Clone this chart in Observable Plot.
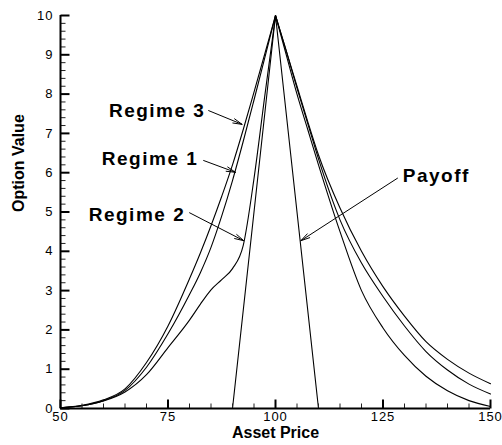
<!DOCTYPE html>
<html>
<head>
<meta charset="utf-8">
<script src="https://cdn.jsdelivr.net/npm/d3@7"></script>
<script src="https://cdn.jsdelivr.net/npm/@observablehq/plot@0.6"></script>
<style>
  html, body { margin: 0; padding: 0; background: white; }
</style>
</head>
<body>
<div id="chart"></div>
<script>
// ---- data ----
const assetPrice = [50, 55, 60, 65, 70, 75, 80, 82.5, 85, 87.5, 90, 92.5, 95, 97.5, 100, 102.5, 105, 107.5, 110, 115, 120, 125, 130, 135, 140, 145, 150];
const regime3 = [0.02, 0.08, 0.22, 0.50, 1.17, 2.10, 3.30, 3.95, 4.65, 5.40, 6.20, 7.10, 8.05, 9.02, 10, 9.10, 8.20, 7.30, 6.45, 5.10, 4.00, 3.10, 2.35, 1.70, 1.25, 0.90, 0.63];
const regime1 = [0.02, 0.07, 0.20, 0.46, 1.05, 1.90, 2.90, 3.45, 4.10, 4.90, 5.80, 6.80, 7.85, 8.92, 10, 9.10, 8.15, 7.25, 6.35, 4.80, 3.70, 2.85, 2.10, 1.45, 0.98, 0.62, 0.37];
const regime2 = [0.02, 0.07, 0.19, 0.42, 0.86, 1.55, 2.25, 2.65, 3.02, 3.28, 3.56, 4.15, 5.85, 7.95, 10, 9.00, 8.00, 7.10, 6.20, 4.50, 3.00, 2.05, 1.35, 0.82, 0.45, 0.20, 0.05];
const payoffX = [90, 100, 110];
const payoffY = [0, 10, 0];
const strike = 100;

const xDomain = [50, 150];
const yDomain = [0, 10];
const xMajor = [50, 75, 100, 125, 150];
const xMinor = [55, 60, 65, 70, 80, 85, 90, 95, 105, 110, 115, 120, 130, 135, 140, 145];
const yMajor = [0, 1, 2, 3, 4, 5, 6, 7, 8, 9, 10];
const yMinor = [0.2, 0.4, 0.6, 0.8, 1.2, 1.4, 1.6, 1.8, 2.2, 2.4, 2.6, 2.8, 3.2, 3.4, 3.6, 3.8, 4.2, 4.4, 4.6, 4.8, 5.2, 5.4, 5.6, 5.8, 6.2, 6.4, 6.6, 6.8, 7.2, 7.4, 7.6, 7.8, 8.2, 8.4, 8.6, 8.8, 9.2, 9.4, 9.6, 9.8];

const xTitle = "Asset Price";
const yTitle = "Option Value";
const labelNames = ["Regime 3", "Regime 1", "Regime 2", "Payoff"];
const labelX = [83.7, 82.05, 79.0, 129.6];
const labelY = [7.58, 6.36, 4.92, 5.91];
const labelSide = ["left", "left", "left", "right"];
const arrowX1 = [84.45, 83.29, 80.02, 128.37];
const arrowY1 = [7.58, 6.31, 4.98, 5.86];
const arrowX2 = [92.23, 90.68, 92.61, 105.9];
const arrowY2 = [7.23, 6.01, 4.27, 4.27];

// ---- tables for the library ----
const series = [["Regime 3", regime3], ["Regime 1", regime1], ["Regime 2", regime2]];
const curveRows = [];
for (const [name, vals] of series) {
  assetPrice.forEach((x, i) => {
    if (x <= strike) curveRows.push({x, y: vals[i], key: name + " L"});
    if (x >= strike) curveRows.push({x, y: vals[i], key: name + " R"});
  });
}
const payoffRows = payoffX.map((x, i) => ({x, y: payoffY[i]}));
const labels = labelNames.map((t, i) => ({t, x: labelX[i], y: labelY[i], side: labelSide[i]}));
const arrows = labelNames.map((t, i) => ({x1: arrowX1[i], y1: arrowY1[i], x2: arrowX2[i], y2: arrowY2[i]}));

const W = 502, H = 445, ML = 60, MR = 12, MT = 15, MB = 37;
const frameW = W - ML - MR, frameH = H - MT - MB;
const FONT = "'Liberation Sans', Arial, sans-serif";
// tick lengths in pixels, expressed in data units for link marks
const xPerPx = (xDomain[1] - xDomain[0]) / frameW;
const yPerPx = (yDomain[1] - yDomain[0]) / frameH;
const majorLen = 9, minorLen = 5;

const chart = Plot.plot({
  width: W,
  height: H,
  marginLeft: ML,
  marginRight: MR,
  marginTop: MT,
  marginBottom: MB,
  x: {domain: xDomain},
  y: {domain: yDomain},
  marks: [
    // tick labels
    Plot.axisY(yMajor, {tickSize: 0, tickPadding: 7, label: null, fontFamily: FONT, fontSize: 13, fill: "black"}),
    Plot.axisX(xMajor, {tickSize: 0, tickPadding: 3, label: null, fontFamily: FONT, fontSize: 13, fill: "black"}),
    // axis titles
    Plot.text([xTitle], {frameAnchor: "bottom", dy: 29, text: d => d, fontFamily: FONT, fontSize: 16, fontWeight: "bold", fill: "black"}),
    Plot.text([yTitle], {frameAnchor: "left", dx: -42, rotate: -90, text: d => d, fontFamily: FONT, fontSize: 16, fontWeight: "bold", fill: "black"}),
    // curves
    Plot.line(curveRows, {x: "x", y: "y", z: "key", curve: "monotone-x", stroke: "black", strokeWidth: 1.1}),
    Plot.line(payoffRows, {x: "x", y: "y", stroke: "black", strokeWidth: 1.1}),
    // annotations
    Plot.arrow(arrows, {x1: "x1", y1: "y1", x2: "x2", y2: "y2", stroke: "black", strokeWidth: 1, headLength: 14, headAngle: 28, insetStart: 0, insetEnd: 0}),
    Plot.text(labels, {filter: d => d.side === "left", x: "x", y: "y", text: "t", textAnchor: "end", fontFamily: FONT, fontSize: 19, fontWeight: "bold", fill: "black", className: "annot"}),
    Plot.text(labels, {filter: d => d.side === "right", x: "x", y: "y", text: "t", textAnchor: "start", fontFamily: FONT, fontSize: 19, fontWeight: "bold", fill: "black", className: "annot"}),
    // inward ticks as links
    Plot.link(yMinor, {x1: () => xDomain[0], x2: () => xDomain[0] + minorLen * xPerPx, y1: d => d, y2: d => d, stroke: "#222", strokeWidth: 1}),
    Plot.link(yMajor, {x1: () => xDomain[0], x2: () => xDomain[0] + majorLen * xPerPx, y1: d => d, y2: d => d, stroke: "black", strokeWidth: 2}),
    Plot.link(xMinor, {x1: d => d, x2: d => d, y1: () => yDomain[0], y2: () => yDomain[0] + minorLen * yPerPx, stroke: "#222", strokeWidth: 1}),
    Plot.link(xMajor, {x1: d => d, x2: d => d, y1: () => yDomain[0], y2: () => yDomain[0] + majorLen * yPerPx, stroke: "black", strokeWidth: 2}),
    // axis lines
    Plot.ruleX([xDomain[0]], {stroke: "black", strokeWidth: 2}),
    Plot.ruleY([yDomain[0]], {stroke: "black", strokeWidth: 2})
  ]
});
document.getElementById("chart").appendChild(chart);
d3.select(chart).selectAll("g.annot text").style("letter-spacing", "1.5px");
d3.select(chart).selectAll('g[aria-label="y-axis tick label"] text, g[aria-label="x-axis tick label"] text').style("letter-spacing", "1px");
</script>
</body>
</html>
